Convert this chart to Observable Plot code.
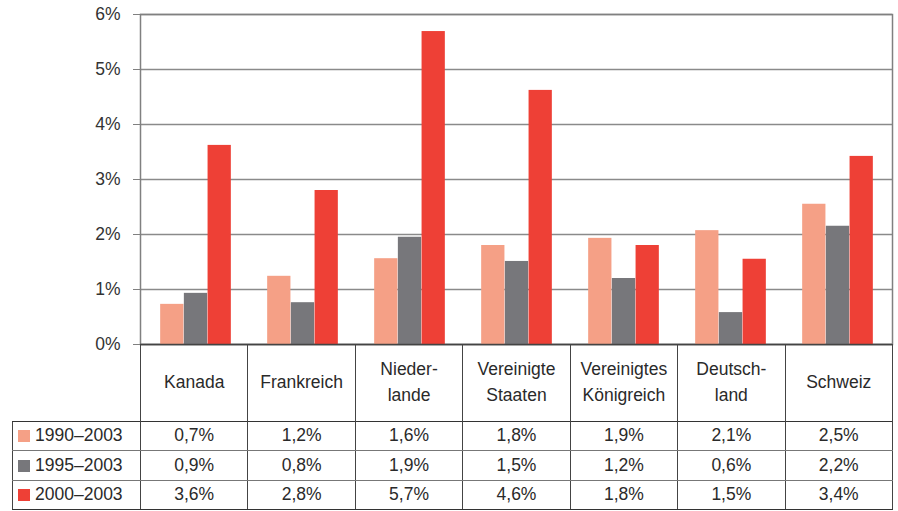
<!DOCTYPE html>
<html>
<head>
<meta charset="utf-8">
<script src="https://cdn.jsdelivr.net/npm/d3@7"></script>
<script src="https://cdn.jsdelivr.net/npm/@observablehq/plot@0.6"></script>
<style>
  html, body { margin: 0; padding: 0; background: #fff; }
  body { width: 898px; height: 511px; position: relative; overflow: hidden; font-family: "Liberation Sans", Arial, sans-serif; color: #333; }
  #chart { position: absolute; left: 0; top: 0; }
  #chart svg { display: block; }
  #tbl { position: absolute; left: 12px; top: 344px; border-collapse: collapse; table-layout: fixed; font-size: 17.5px; color: #2a2a2a; }
  #tbl td { padding: 0; text-align: center; vertical-align: middle; box-sizing: border-box; }
  #tbl tr.head td { height: 77px; line-height: 26px; }
  #tbl tr.head td.c { border-left: 1.5px solid #444; border-right: 1.5px solid #444; }
  #tbl tr.row td { height: 29.6px; border: 1.5px solid #444; border-top-color: #777; border-bottom-color: #777; }
  #tbl tr.row.first td { border-top-color: #333; }
  #tbl tr.row.last td { border-bottom-color: #333; }
  #tbl td.lab { text-align: left; padding-left: 5px; white-space: nowrap; }
  .sw { display: inline-block; width: 12px; height: 12px; margin-right: 5px; vertical-align: -1px; }
</style>
</head>
<body>
<div id="chart"></div>
<table id="tbl"></table>
<script>
// ---- data ----
const countries = ["Kanada", "Frankreich", "Niederlande", "Vereinigte Staaten", "Vereinigtes Königreich", "Deutschland", "Schweiz"];
const countryLabels = ["Kanada", "Frankreich", "Nieder-\nlande", "Vereinigte\nStaaten", "Vereinigtes\nKönigreich", "Deutsch-\nland", "Schweiz"];
const series = ["1990–2003", "1995–2003", "2000–2003"];
const colors = ["#F5A086", "#77777B", "#EE4036"];
// bar heights (% growth) as drawn
const v1990 = [0.73, 1.24, 1.56, 1.80, 1.93, 2.07, 2.55];
const v1995 = [0.93, 0.76, 1.95, 1.51, 1.20, 0.58, 2.15];
const v2000 = [3.62, 2.80, 5.69, 4.62, 1.80, 1.55, 3.42];
// table values as printed
const t1990 = [0.7, 1.2, 1.6, 1.8, 1.9, 2.1, 2.5];
const t1995 = [0.9, 0.8, 1.9, 1.5, 1.2, 0.6, 2.2];
const t2000 = [3.6, 2.8, 5.7, 4.6, 1.8, 1.5, 3.4];
const yTicks = [0, 1, 2, 3, 4, 5, 6];

const seriesValues = [v1990, v1995, v2000];
const tableValues = [t1990, t1995, t2000];

// ---- layout ----
const W = 898, H = 360, mL = 140, mR = 6, mT = 14, mB = 16;
const step = (W - mL - mR) / countries.length;
const barW = 23.7;
const groupPad = (step - series.length * barW) / 2;

const rows = [];
series.forEach((s, si) => countries.forEach((c, ci) => rows.push({country: c, series: s, value: seriesValues[si][ci]})));

const barMarks = series.map((s, si) => {
  const insetLeft = groupPad + si * barW;
  const insetRight = step - insetLeft - barW;
  return Plot.barY(rows.filter(d => d.series === s), {
    x: "country", y: "value", fill: "series", insetLeft, insetRight
  });
});

const fmt = v => String(v.toFixed(1)).replace(".", ",") + "%";

const chart = Plot.plot({
  width: W, height: H,
  marginLeft: mL, marginRight: mR, marginTop: mT, marginBottom: mB,
  x: {domain: countries, padding: 0, axis: null},
  y: {domain: [0, 6], axis: null},
  color: {domain: series, range: colors},
  style: {fontFamily: "'Liberation Sans', Arial, sans-serif", fontSize: "17px", color: "#333", background: "#fff"},
  marks: [
    Plot.ruleY(yTicks, {stroke: "#8a8a8a", strokeWidth: 1.5}),
    Plot.frame({stroke: "#808080", strokeWidth: 1.5}),
    ...barMarks,
    Plot.ruleY([0], {stroke: "#444", strokeWidth: 1.5}),
    Plot.axisY(yTicks, {tickFormat: d => d + "%", tickSize: 7, tickPadding: 13, stroke: "#808080", fill: "#333", fontSize: 17.5, label: null})
  ]
});
document.getElementById("chart").appendChild(chart);

// ---- data table ----
const tbl = document.getElementById("tbl");
const cg = document.createElement("colgroup");
const c0 = document.createElement("col"); c0.style.width = (mL - 12) + "px"; cg.appendChild(c0);
countries.forEach(() => { const c = document.createElement("col"); c.style.width = step + "px"; cg.appendChild(c); });
tbl.appendChild(cg);
tbl.style.width = (mL - 12 + step * countries.length) + "px";

const head = document.createElement("tr"); head.className = "head";
head.appendChild(document.createElement("td"));
countryLabels.forEach(l => {
  const td = document.createElement("td"); td.className = "c";
  l.split("\n").forEach((part, i) => { if (i) td.appendChild(document.createElement("br")); td.appendChild(document.createTextNode(part)); });
  head.appendChild(td);
});
tbl.appendChild(head);

series.forEach((s, si) => {
  const tr = document.createElement("tr");
  tr.className = "row" + (si === 0 ? " first" : "") + (si === series.length - 1 ? " last" : "");
  const lab = document.createElement("td"); lab.className = "lab";
  const sw = document.createElement("span"); sw.className = "sw"; sw.style.background = colors[si];
  lab.appendChild(sw); lab.appendChild(document.createTextNode(s));
  tr.appendChild(lab);
  tableValues[si].forEach(v => { const td = document.createElement("td"); td.textContent = fmt(v); tr.appendChild(td); });
  tbl.appendChild(tr);
});
</script>
</body>
</html>
